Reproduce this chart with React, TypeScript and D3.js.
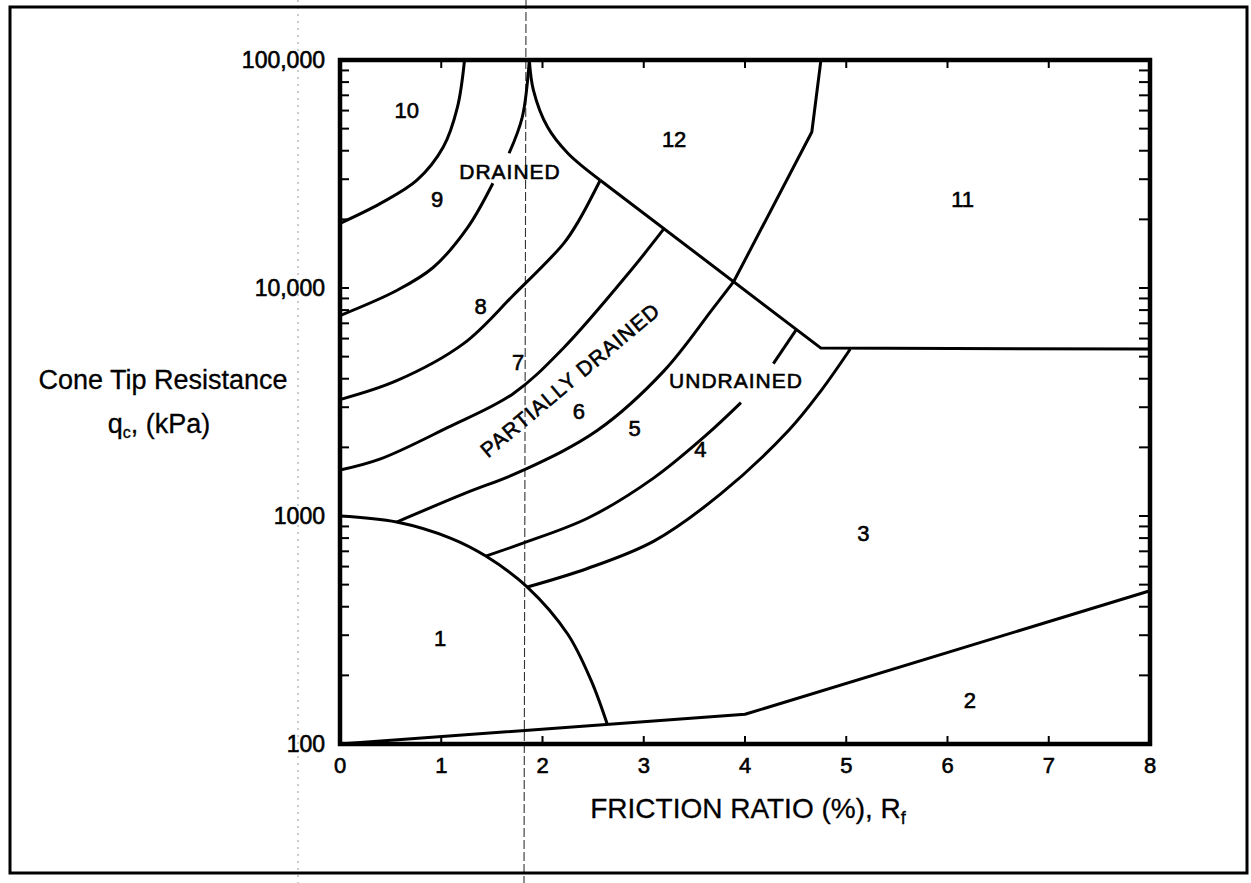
import React from 'react';
import * as d3 from 'd3';

type Pt = [number, number];

// friction ratio (%) and cone tip resistance (kPa)
const zone1Arc: Pt[] = [[0, 1000], [0.56, 941], [1.09, 800], [1.44, 667], [1.85, 488], [2.25, 303], [2.48, 190], [2.64, 122]];
const zone2Line: Pt[] = [[0, 100], [4, 135], [8, 470]];
const b34: Pt[] = [[1.85, 488], [2.45, 590], [3.10, 776], [3.76, 1250], [4.43, 2370], [4.75, 3540], [5.04, 5400]];
const b45Lower: Pt[] = [[1.44, 667], [1.78, 753], [2.45, 980], [3.10, 1470], [3.63, 2290], [3.96, 3140]];
const b45Upper: Pt[] = [[4.28, 4660], [4.51, 6600]];
const b56: Pt[] = [[0.56, 941], [1.22, 1250], [1.80, 1580], [2.54, 2370], [3.20, 4330], [3.69, 8200], [3.89, 10700]];
const b1112: Pt[] = [[3.89, 10700], [4.66, 48300], [4.75, 100000]];
const b67: Pt[] = [[0, 1590], [0.40, 1780], [1.06, 2440], [1.71, 3440], [2.21, 5470], [2.87, 11900], [3.20, 18200]];
const b78: Pt[] = [[0, 3240], [0.56, 3920], [1.22, 5700], [1.71, 9270], [2.21, 15700], [2.36, 19800], [2.57, 29700]];
const b89Upper: Pt[] = [[1.87, 100000], [1.80, 56100], [1.67, 39000]];
const b89Lower: Pt[] = [[1.51, 28800], [1.26, 18400], [0.92, 12300], [0.56, 9750], [0, 7570]];
const b910: Pt[] = [[0, 19200], [0.40, 23500], [0.76, 29700], [1.02, 41500], [1.16, 62100], [1.23, 100000]];
const cuspRight: Pt[] = [[1.87, 100000], [1.91, 73800], [2.05, 50800], [2.25, 39000], [2.57, 29700]];
const diagonal: Pt[] = [[2.57, 29700], [4.75, 5450], [8, 5400]];

const zoneLabels: { t: string; r: number; q: number }[] = [
  { t: '1', r: 0.99, q: 290 },
  { t: '2', r: 6.22, q: 155 },
  { t: '3', r: 5.17, q: 840 },
  { t: '4', r: 3.56, q: 1960 },
  { t: '5', r: 2.91, q: 2420 },
  { t: '6', r: 2.36, q: 2880 },
  { t: '7', r: 1.76, q: 4700 },
  { t: '8', r: 1.39, q: 8300 },
  { t: '9', r: 0.96, q: 24500 },
  { t: '10', r: 0.66, q: 60000 },
  { t: '11', r: 6.15, q: 24500 },
  { t: '12', r: 3.30, q: 45000 },
];

const xTicks = [0, 1, 2, 3, 4, 5, 6, 7, 8];
const yTickValues = [100, 1000, 10000, 100000];
const yTickLabels = ['100', '1000', '10,000', '100,000'];

const font = "'Liberation Sans', Arial, Helvetica, sans-serif";

export default function App() {
  const W = 1251, H = 883;
  const x = d3.scaleLinear().domain([0, 8]).range([340, 1150]);
  const y = d3.scaleLog().domain([100, 100000]).range([744, 60]);

  const smooth = d3.line<Pt>().x(d => x(d[0])).y(d => y(d[1])).curve(d3.curveCatmullRom.alpha(0.5));
  const straight = d3.line<Pt>().x(d => x(d[0])).y(d => y(d[1]));

  const smoothLines = [zone1Arc, b34, b45Lower, b45Upper, b56, b67, b78, b89Upper, b89Lower, b910, cuspRight];
  const straightLines = [zone2Line, b1112, diagonal];

  const minor: number[] = [];
  for (let dec = 100; dec < 100000; dec *= 10) {
    for (let k = 1; k < 10; k++) if (dec * k > 100) minor.push(dec * k);
  }

  const [x0, x1] = x.range();
  const [y0, y1] = y.range();

  return (
    <svg width={W} height={H} style={{ display: 'block', position: 'absolute', left: 0, top: 0, background: '#fff' }}>
      <rect x={0} y={0} width={W} height={H} fill="#fff" />
      {/* scan fold lines */}
      <line x1={526} x2={524} y1={0} y2={H} stroke="#333" strokeWidth={1.1} strokeDasharray="9 3" />
      <line x1={298} x2={298} y1={0} y2={H} stroke="#999" strokeWidth={1} strokeDasharray="2 5" />

      <rect x={10} y={7} width={1237} height={866} fill="none" stroke="#000" strokeWidth={3} />

      <g fill="none" stroke="#000" strokeWidth={3} strokeLinejoin="round">
        {smoothLines.map((p, i) => <path key={'s' + i} d={smooth(p) || ''} />)}
        {straightLines.map((p, i) => <path key={'l' + i} d={straight(p) || ''} />)}
      </g>

      <g stroke="#000" strokeWidth={2}>
        {minor.map(v => (
          <g key={v}>
            <line x1={x0} x2={x0 + 9} y1={y(v)} y2={y(v)} />
            <line x1={x1} x2={x1 - 11} y1={y(v)} y2={y(v)} />
          </g>
        ))}
        {xTicks.slice(1, -1).map(t => (
          <g key={t}>
            <line x1={x(t)} x2={x(t)} y1={y0} y2={y0 - 8} />
            <line x1={x(t)} x2={x(t)} y1={y1} y2={y1 + 8} />
          </g>
        ))}
      </g>
      <rect x={x0} y={y1} width={x1 - x0} height={y0 - y1} fill="none" stroke="#000" strokeWidth={4.5} />

      <g fontFamily={font} fill="#000" stroke="#000" strokeWidth={0.6}>
        {yTickValues.map((v, i) => (
          <text key={v} x={325} y={y(v)} dy="0.33em" textAnchor="end" fontSize={23}>{yTickLabels[i]}</text>
        ))}
        {xTicks.map(t => (
          <text key={t} x={x(t)} y={773} textAnchor="middle" fontSize={22}>{t}</text>
        ))}
        {zoneLabels.map(z => (
          <text key={z.t} x={x(z.r)} y={y(z.q)} dy="0.35em" textAnchor="middle" fontSize={22}>{z.t}</text>
        ))}
        <text x={510} y={172} dy="0.35em" textAnchor="middle" fontSize={21} letterSpacing={1}>DRAINED</text>
        <text x={736} y={381} dy="0.35em" textAnchor="middle" fontSize={21} letterSpacing={1}>UNDRAINED</text>
        <text transform="translate(570,380) rotate(-40)" dy="0.35em" textAnchor="middle" fontSize={21} letterSpacing={1}>PARTIALLY DRAINED</text>
      </g>
      <g fontFamily={font} fill="#000" stroke="#000" strokeWidth={0.3}>
        <text x={163} y={389} textAnchor="middle" fontSize={27}>Cone Tip Resistance</text>
        <text x={159} y={433} textAnchor="middle" fontSize={27}>
          q<tspan fontSize={16} dy={5}>c</tspan><tspan dy={-5}>, (kPa)</tspan>
        </text>
        <text x={748} y={818} textAnchor="middle" fontSize={28}>
          FRICTION RATIO (%), R<tspan fontSize={18} dy={6}>f</tspan>
        </text>
      </g>
    </svg>
  );
}
